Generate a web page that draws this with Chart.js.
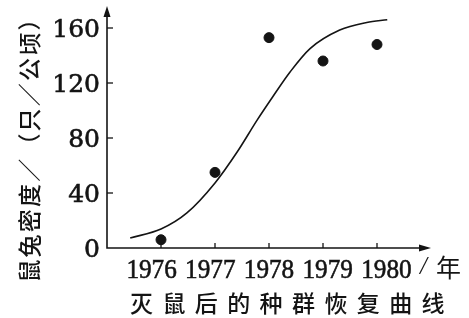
<!DOCTYPE html>
<html>
<head>
<meta charset="utf-8">
<script src="https://cdn.jsdelivr.net/npm/chart.js@4"></script>
<style>
    html, body { margin: 0; padding: 0; background: #fff; }
    canvas { display: block; }
</style>
</head>
<body>
<canvas id="chart" width="469" height="318"></canvas>
<script>
// Observed densities (dots)
const years = [1976, 1977, 1978, 1979, 1980];
const density = [6, 55, 153, 136, 148];

// Fitted recovery curve
const curveYears = [1975.43, 1976, 1976.48, 1977, 1977.41, 1977.78, 1978.07, 1978.39, 1978.76, 1979.31, 1979.81, 1980.19];
const curveDensity = [7.3, 13.8, 25.5, 47.3, 69.8, 93, 110, 128, 145, 158.5, 164, 166];

// Axis labels
const yTicks = [0, 40, 80, 120, 160];
const xTicks = [1976, 1977, 1978, 1979, 1980];
const yTitle = '鼠兔密度／（只／公顷）';
const xUnit = '年';
const chartTitle = '灭鼠后的种群恢复曲线';

const INK = '#141414';

// Draws the hand-style axes with arrows, inward ticks and labels
const axesPlugin = {
    id: 'axes',
    afterDraw(chart) {
        const ctx = chart.ctx;
        const xs = chart.scales.x;
        const ys = chart.scales.y;
        const x0 = xs.getPixelForValue(xs.min);
        const y0 = ys.getPixelForValue(0);
        const xEnd = xs.getPixelForValue(xs.max);
        const yEnd = ys.getPixelForValue(ys.max);

        ctx.save();
        ctx.strokeStyle = INK;
        ctx.fillStyle = INK;
        ctx.lineWidth = 1.6;

        // axis lines
        ctx.beginPath();
        ctx.moveTo(x0, yEnd + 8);
        ctx.lineTo(x0, y0);
        ctx.lineTo(xEnd - 8, y0);
        ctx.stroke();

        // arrow heads
        ctx.beginPath();
        ctx.moveTo(x0, yEnd);
        ctx.lineTo(x0 - 3.5, yEnd + 11);
        ctx.lineTo(x0 + 3.5, yEnd + 11);
        ctx.closePath();
        ctx.fill();
        ctx.beginPath();
        ctx.moveTo(xEnd, y0);
        ctx.lineTo(xEnd - 12, y0 - 3.5);
        ctx.lineTo(xEnd - 12, y0 + 3.5);
        ctx.closePath();
        ctx.fill();

        // y ticks + labels
        ctx.lineWidth = 1.3;
        yTicks.forEach(v => {
            if (v === 0) return;
            const py = ys.getPixelForValue(v);
            ctx.beginPath();
            ctx.moveTo(x0, py);
            ctx.lineTo(x0 + 6, py);
            ctx.stroke();
        });
        ctx.font = '25px "DejaVu Serif"';
        ctx.textAlign = 'right';
        ctx.textBaseline = 'middle';
        ctx.lineWidth = 0.6;
        yTicks.forEach(v => {
            const py = ys.getPixelForValue(v);
            ctx.fillText(String(v), x0 - 7, py + 2);
            ctx.strokeText(String(v), x0 - 7, py + 2);
        });

        // x ticks
        ctx.lineWidth = 1.3;
        xTicks.forEach(v => {
            const px = xs.getPixelForValue(v);
            ctx.beginPath();
            ctx.moveTo(px, y0);
            ctx.lineTo(px, y0 - 5);
            ctx.stroke();
        });

        // x labels: tall, slightly condensed serif, a bit wider spaced than the ticks
        ctx.font = '28px "Liberation Serif"';
        ctx.textAlign = 'center';
        ctx.textBaseline = 'alphabetic';
        ctx.lineWidth = 0.6;
        xTicks.forEach(v => {
            const px = xs.getPixelForValue(v) + (v - 1978) * 4.7;
            ctx.save();
            ctx.translate(px, y0 + 30);
            ctx.scale(0.9, 1);
            ctx.fillText(String(v), 0, 0);
            ctx.strokeText(String(v), 0, 0);
            ctx.restore();
        });

        // unit "/年"
        ctx.textAlign = 'left';
        ctx.textBaseline = 'middle';
        ctx.font = 'italic 25px "Liberation Serif"';
        ctx.fillText('/', xEnd - 11, y0 + 19);
        ctx.font = '25px "Noto Sans CJK SC"';
        ctx.fillText(xUnit, xEnd + 5, y0 + 19);

        // y title, rotated
        ctx.save();
        ctx.translate(29, 144);
        ctx.rotate(-Math.PI / 2);
        ctx.textAlign = 'center';
        ctx.font = '500 23px "Noto Sans CJK SC"';
        ctx.letterSpacing = '2.2px';
        ctx.fillText(yTitle, 0, 0);
        ctx.restore();

        // caption
        ctx.font = '500 23px "Noto Sans CJK SC"';
        ctx.letterSpacing = '9.4px';
        ctx.textAlign = 'left';
        ctx.fillText(chartTitle, 130, 303);
        ctx.restore();
    }
};

new Chart(document.getElementById('chart'), {
    type: 'scatter',
    data: {
        datasets: [
            {
                type: 'line',
                data: curveYears.map((x, i) => ({ x: x, y: curveDensity[i] })),
                borderColor: INK,
                borderWidth: 1.6,
                pointRadius: 0,
                cubicInterpolationMode: 'monotone',
                fill: false,
                clip: false
            },
            {
                data: years.map((x, i) => ({ x: x, y: density[i] })),
                backgroundColor: INK,
                borderColor: INK,
                pointRadius: 5,
                clip: false
            }
        ]
    },
    options: {
        responsive: false,
        animation: false,
        layout: {
            padding: { left: 107, right: 38, top: 6, bottom: 70 }
        },
        scales: {
            x: { type: 'linear', min: 1975, max: 1981, display: false },
            y: { type: 'linear', min: 0, max: 176, display: false }
        },
        plugins: {
            legend: { display: false },
            tooltip: { enabled: false }
        }
    },
    plugins: [axesPlugin]
});
</script>
</body>
</html>
